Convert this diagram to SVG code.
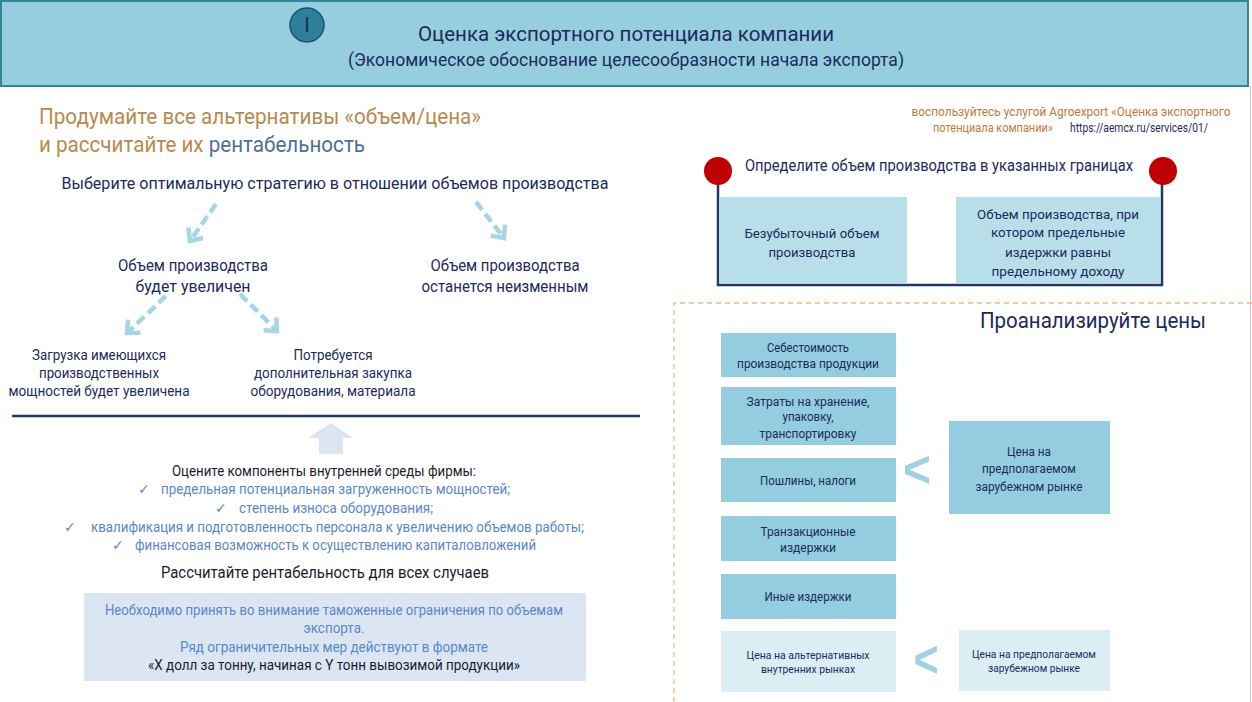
<svg xmlns="http://www.w3.org/2000/svg" width="1252" height="702" viewBox="0 0 1252 702">
<style>
text{font-family:Roboto,"Liberation Sans",sans-serif;}
.nv{fill:#1c2a5c;}
.c{text-anchor:middle;}
.s12{font-size:12px;}
.s13{font-size:13px;}
.s14{font-size:14px;}
.s16{font-size:16px;}
.bl{fill:#5a87c8;}
.chk{font-family:"DejaVu Sans",sans-serif;font-size:14px;fill:#5a87c8;}
.bx{fill:#93cddf;}
.bxl{fill:#b8dfe9;}
.bxll{fill:#dbeef4;}
.arr{stroke:#a5d6e4;stroke-width:4.5;stroke-dasharray:10 5;fill:none;}
.lt{fill:#9fd2e0;font-size:52px;font-weight:bold;font-family:"Liberation Sans",sans-serif;}
</style>
<defs>
<marker id="ah" markerUnits="userSpaceOnUse" markerWidth="24" markerHeight="24" refX="12" refY="12" orient="auto" viewBox="0 0 24 24">
<polyline points="2,3 12,12 2,21" fill="none" stroke="#a5d6e4" stroke-width="4.5"/>
</marker>
</defs>
<rect width="1252" height="702" fill="#ffffff"/>
<line x1="1250.5" y1="86" x2="1250.5" y2="702" stroke="#c8c8c8" stroke-width="1"/>

<g id="header">
<rect x="1" y="1" width="1247" height="85" fill="#96cddf" stroke="#31859c" stroke-width="2"/>
<circle cx="307" cy="25" r="17" fill="#2e7f9a" stroke="#1f4e6e" stroke-width="1.5"/>
<text x="307" y="32" class="c nv" font-size="20">I</text>
<text x="626" y="41" class="c nv" font-size="20" textLength="416" lengthAdjust="spacingAndGlyphs">Оценка экспортного потенциала компании</text>
<text x="626" y="66" class="c nv" font-size="18" textLength="556" lengthAdjust="spacingAndGlyphs">(Экономическое обоснование целесообразности начала экспорта)</text>
</g>

<g id="heading-left">
<text x="39" y="124" font-size="22" fill="#b88a4e" textLength="442" lengthAdjust="spacingAndGlyphs">Продумайте все альтернативы «объем/цена»</text>
<text x="39" y="152" font-size="22" fill="#b88a4e" textLength="326" lengthAdjust="spacingAndGlyphs">и рассчитайте их <tspan fill="#4f6f98">рентабельность</tspan></text>
</g>

<g id="strategy">
<text x="335" y="189" class="c nv" font-size="17" textLength="547" lengthAdjust="spacingAndGlyphs">Выберите оптимальную стратегию в отношении объемов производства</text>
</g>

<g id="increase">
<text x="193" y="271" class="c nv s16" textLength="150" lengthAdjust="spacingAndGlyphs">Объем производства</text>
<text x="193" y="292" class="c nv s16" textLength="115" lengthAdjust="spacingAndGlyphs">будет увеличен</text>
</g>
<g id="unchanged">
<text x="505" y="271" class="c nv s16" textLength="149" lengthAdjust="spacingAndGlyphs">Объем производства</text>
<text x="505" y="292" class="c nv s16" textLength="167" lengthAdjust="spacingAndGlyphs">останется неизменным</text>
</g>
<g id="load">
<text x="99" y="360" class="c nv s14" textLength="134" lengthAdjust="spacingAndGlyphs">Загрузка имеющихся</text>
<text x="99" y="378" class="c nv s14" textLength="120" lengthAdjust="spacingAndGlyphs">производственных</text>
<text x="99" y="396" class="c nv s14" textLength="181" lengthAdjust="spacingAndGlyphs">мощностей будет увеличена</text>
</g>
<g id="purchase">
<text x="333" y="360" class="c nv s14" textLength="79" lengthAdjust="spacingAndGlyphs">Потребуется</text>
<text x="333" y="378" class="c nv s14" textLength="158" lengthAdjust="spacingAndGlyphs">дополнительная закупка</text>
<text x="333" y="396" class="c nv s14" textLength="165" lengthAdjust="spacingAndGlyphs">оборудования, материала</text>
</g>

<g id="connectors">
<line class="arr" x1="216" y1="204" x2="190" y2="241" marker-end="url(#ah)"/>
<line class="arr" x1="476" y1="202" x2="504" y2="238" marker-end="url(#ah)"/>
<line class="arr" x1="166" y1="296" x2="127" y2="333" marker-end="url(#ah)"/>
<line class="arr" x1="240" y1="294" x2="277" y2="331" marker-end="url(#ah)"/>
<polygon points="331,423 353,438 343,438 343,454 319,454 319,438 308,438" fill="#dce6f2"/>
</g>

<line x1="12" y1="416" x2="640" y2="416" stroke="#1f3864" stroke-width="2.5"/>

<g id="components">
<text x="324" y="476" class="c s14" fill="#1b1b2e" textLength="304" lengthAdjust="spacingAndGlyphs">Оцените компоненты внутренней среды фирмы:</text>
<text x="138" y="494" class="chk">✓</text>
<text x="161" y="494" class="s14 bl" textLength="349" lengthAdjust="spacingAndGlyphs">предельная потенциальная загруженность мощностей;</text>
<text x="215" y="513" class="chk">✓</text>
<text x="239" y="513" class="s14 bl" textLength="194" lengthAdjust="spacingAndGlyphs">степень износа оборудования;</text>
<text x="64" y="532" class="chk">✓</text>
<text x="91" y="532" class="s14 bl" textLength="493" lengthAdjust="spacingAndGlyphs">квалификация и подготовленность персонала к увеличению объемов работы;</text>
<text x="112" y="550" class="chk">✓</text>
<text x="135" y="550" class="s14 bl" textLength="401" lengthAdjust="spacingAndGlyphs">финансовая возможность к осуществлению капиталовложений</text>
</g>

<g id="calc">
<text x="325" y="578" class="c s16" fill="#1b1b2e" textLength="328" lengthAdjust="spacingAndGlyphs">Рассчитайте  рентабельность  для всех случаев</text>
</g>

<g id="note">
<rect x="84" y="593" width="502" height="88" fill="#dce6f2"/>
<text x="334" y="615" class="c s14 bl" textLength="458" lengthAdjust="spacingAndGlyphs">Необходимо принять во внимание таможенные ограничения по объемам</text>
<text x="334" y="633" class="c s14 bl" textLength="61" lengthAdjust="spacingAndGlyphs">экспорта.</text>
<text x="334" y="652" class="c s14 bl" textLength="308" lengthAdjust="spacingAndGlyphs">Ряд ограничительных мер действуют в формате</text>
<text x="334" y="670" class="c s14" fill="#1b1b2e" textLength="372" lengthAdjust="spacingAndGlyphs">«X долл за тонну, начиная с Y тонн вывозимой продукции»</text>
</g>

<g id="service">
<text x="1071" y="116" class="c s12" fill="#c07a3c" textLength="319" lengthAdjust="spacingAndGlyphs">воспользуйтесь услугой Agroexport «Оценка экспортного</text>
<text x="933" y="132" class="s12" fill="#c07a3c" textLength="120" lengthAdjust="spacingAndGlyphs">потенциала компании»</text>
<text x="1070" y="132" class="s12 nv" textLength="138" lengthAdjust="spacingAndGlyphs">https://aemcx.ru/services/01/</text>
</g>

<g id="bounds">
<polyline points="718,171 718,285 1162,285 1162,171" fill="none" stroke="#1f3864" stroke-width="2.5"/>
<rect x="719" y="197" width="188" height="86" class="bxl"/>
<rect x="956" y="197" width="204" height="86" class="bxl"/>
<circle cx="718" cy="171" r="14" fill="#c00000"/>
<circle cx="1163" cy="171" r="14" fill="#c00000"/>
<text x="745" y="171" class="s16 nv" textLength="388" lengthAdjust="spacingAndGlyphs">Определите  объем производства  в указанных  границах</text>
<text x="812" y="238" class="c s13 nv" textLength="135" lengthAdjust="spacingAndGlyphs">Безубыточный объем</text>
<text x="812" y="257" class="c s13 nv" textLength="87" lengthAdjust="spacingAndGlyphs">производства</text>
<text x="1058" y="219" class="c s13 nv" textLength="162" lengthAdjust="spacingAndGlyphs">Объем производства, при</text>
<text x="1058" y="237" class="c s13 nv" textLength="134" lengthAdjust="spacingAndGlyphs">котором предельные</text>
<text x="1058" y="257" class="c s13 nv" textLength="106" lengthAdjust="spacingAndGlyphs">издержки равны</text>
<text x="1058" y="276" class="c s13 nv" textLength="133" lengthAdjust="spacingAndGlyphs">предельному доходу</text>
</g>

<path d="M674,702 V303 H1252" fill="none" stroke="#f7b77a" stroke-width="1.3" stroke-dasharray="5 4"/>

<g id="prices">
<text x="980" y="328" font-size="22" class="nv" textLength="226" lengthAdjust="spacingAndGlyphs">Проанализируйте  цены</text>
</g>

<g id="cost">
<rect x="721" y="333" width="175" height="44" class="bx"/>
<text x="808" y="352" class="c s12 nv" textLength="82" lengthAdjust="spacingAndGlyphs">Себестоимость</text>
<text x="808" y="368" class="c s12 nv" textLength="142" lengthAdjust="spacingAndGlyphs">производства продукции</text>
</g>
<g id="storage">
<rect x="721" y="387" width="175" height="58" class="bx"/>
<text x="808" y="406" class="c s12 nv" textLength="123" lengthAdjust="spacingAndGlyphs">Затраты на хранение,</text>
<text x="808" y="421" class="c s12 nv" textLength="51" lengthAdjust="spacingAndGlyphs">упаковку,</text>
<text x="808" y="438" class="c s12 nv" textLength="97" lengthAdjust="spacingAndGlyphs">транспортировку</text>
</g>
<g id="duties">
<rect x="721" y="458" width="175" height="44" class="bx"/>
<text x="808" y="485" class="c s12 nv" textLength="96" lengthAdjust="spacingAndGlyphs">Пошлины, налоги</text>
</g>
<g id="transaction">
<rect x="721" y="516" width="175" height="45" class="bx"/>
<text x="808" y="536" class="c s12 nv" textLength="95" lengthAdjust="spacingAndGlyphs">Транзакционные</text>
<text x="808" y="552" class="c s12 nv" textLength="56" lengthAdjust="spacingAndGlyphs">издержки</text>
</g>
<g id="other">
<rect x="721" y="574" width="175" height="45" class="bx"/>
<text x="808" y="601" class="c s12 nv" textLength="87" lengthAdjust="spacingAndGlyphs">Иные издержки</text>
</g>
<g id="domestic">
<rect x="721" y="631" width="175" height="61" class="bxll"/>
<text x="808" y="659" class="c nv" font-size="11" textLength="123" lengthAdjust="spacingAndGlyphs">Цена на альтернативных</text>
<text x="808" y="673" class="c nv" font-size="11" textLength="94" lengthAdjust="spacingAndGlyphs">внутренних рынках</text>
</g>
<g id="foreign1">
<rect x="949" y="421" width="161" height="93" class="bx"/>
<text x="1029" y="456" class="c s12 nv" textLength="44" lengthAdjust="spacingAndGlyphs">Цена на</text>
<text x="1029" y="473" class="c s12 nv" textLength="94" lengthAdjust="spacingAndGlyphs">предполагаемом</text>
<text x="1029" y="491" class="c s12 nv" textLength="107" lengthAdjust="spacingAndGlyphs">зарубежном рынке</text>
</g>
<g id="foreign2">
<rect x="959" y="630" width="151" height="61" class="bxll"/>
<text x="1034" y="658" class="c nv" font-size="11" textLength="124" lengthAdjust="spacingAndGlyphs">Цена на предполагаемом</text>
<text x="1034" y="672" class="c nv" font-size="11" textLength="92" lengthAdjust="spacingAndGlyphs">зарубежном рынке</text>
</g>
<text x="917" y="487" class="lt c" textLength="28" lengthAdjust="spacingAndGlyphs">&lt;</text>
<text x="926" y="677" class="lt c" font-size="46" textLength="25" lengthAdjust="spacingAndGlyphs">&lt;</text>
</svg>
